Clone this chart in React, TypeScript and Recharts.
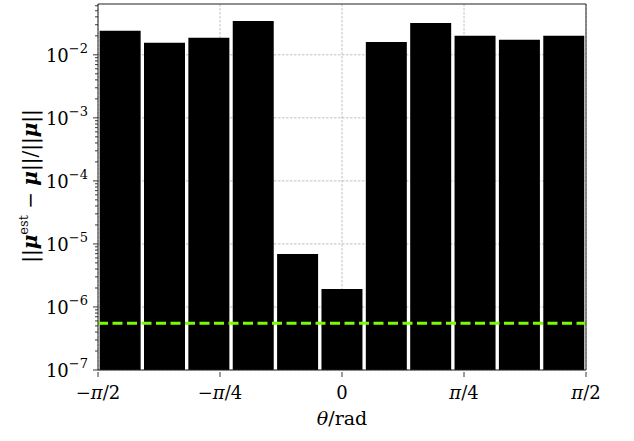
import * as React from "react";
import {
  Bar,
  CartesianGrid,
  ComposedChart,
  ReferenceLine,
  XAxis,
  YAxis,
} from "recharts";

// bin centres in units of pi/22
const BIN_CENTERS = [-10, -8, -6, -4, -2, 0, 2, 4, 6, 8, 10];
const REL_ERROR = [
  0.024, 0.0155, 0.0186, 0.0345, 6.9e-6, 1.93e-6, 0.016, 0.032, 0.02, 0.0173,
  0.02,
];
const NOISE_FLOOR = 5.5e-7;

const THETA_TICKS = [-Math.PI / 2, -Math.PI / 4, 0, Math.PI / 4, Math.PI / 2];
const THETA_LABELS = ["−π/2", "−π/4", "0", "π/4", "π/2"];
const DECADES = [1e-7, 1e-6, 1e-5, 1e-4, 1e-3, 1e-2];
const EXPONENTS = [-7, -6, -5, -4, -3, -2];
const MINOR_MULT = [2, 3, 4, 5, 6, 7, 8, 9];
const Y_MAX = 0.064;

const FONT = "'DejaVu Serif', 'Liberation Serif', serif";
const INK = "#000";

const yTicks: number[] = [];
DECADES.forEach((d) => {
  yTicks.push(d);
  MINOR_MULT.forEach((m) => {
    const v = d * m;
    if (v <= Y_MAX) yTicks.push(v);
  });
});

const rows = BIN_CENTERS.map((c, i) => ({
  bin: String(c),
  theta: (c * Math.PI) / 22,
  err: REL_ERROR[i],
}));

function YTick(props: any) {
  const { x, y, payload } = props;
  const v = payload.value as number;
  const idx = DECADES.findIndex((d) => Math.abs(d - v) / d < 1e-6);
  const major = idx >= 0;
  return (
    <g>
      <line x1={x - (major ? 5 : 3)} x2={x} y1={y} y2={y} stroke="#222" strokeWidth={0.9} />
      {major && (
        <text x={x - 10} y={y + 7} textAnchor="end" fontFamily={FONT} fill={INK}>
          <tspan fontSize={18}>10</tspan>
          <tspan fontSize={13} dy={-9}>
            {"−" + String(-EXPONENTS[idx])}
          </tspan>
        </text>
      )}
    </g>
  );
}

// render "π" in italic, the rest upright
function mathParts(s: string) {
  return s.split(/(π)/).filter(Boolean).map((part, i) =>
    part === "π" ? (
      <tspan key={i} fontStyle="italic">π</tspan>
    ) : (
      <tspan key={i}>{part}</tspan>
    )
  );
}

function XTick(props: any) {
  const { x, y, payload, index } = props;
  return (
    <g>
      <line x1={x} x2={x} y1={y} y2={y + 5} stroke="#222" strokeWidth={0.9} />
      <text
        x={x}
        y={y + 27}
        textAnchor="middle"
        fontFamily={FONT}
        fontSize={18}
        fill={INK}
      >
        {mathParts(THETA_LABELS[index] ?? String(payload.value))}
      </text>
    </g>
  );
}

function YLabel() {
  const cx = 37;
  const cy = 186;
  const mu = { fontWeight: "bold", fontStyle: "italic" } as const;
  return (
    <text
      x={cx}
      y={cy}
      transform={`rotate(-90 ${cx} ${cy})`}
      textAnchor="middle"
      fontFamily={FONT}
      fontSize={20}
      fill={INK}
    >
      <tspan>||</tspan>
      <tspan {...mu}>μ</tspan>
      <tspan fontSize={13} dy={-9}>est</tspan>
      <tspan dy={9}> − </tspan>
      <tspan {...mu}>μ</tspan>
      <tspan>||/||</tspan>
      <tspan {...mu}>μ</tspan>
      <tspan>||</tspan>
    </text>
  );
}

export default function App() {
  return (
    <div style={{ position: "absolute", left: 0, top: 0 }}>
      <ComposedChart
        width={634}
        height={441}
        data={rows}
        margin={{ top: 3, right: 47, left: 0, bottom: 0 }}
        barCategoryGap="3.7%"
      >
        <CartesianGrid
          xAxisId="theta"
          yAxisId="left"
          stroke="#b0b0b0"
          strokeWidth={0.8}
          strokeDasharray="2.5 1.5"
          horizontalValues={DECADES}
          verticalValues={THETA_TICKS}
        />
        <XAxis
          xAxisId="cat"
          dataKey="bin"
          type="category"
          hide
          height={0}
          padding={{ left: 0, right: 0 }}
        />
        <XAxis
          xAxisId="theta"
          dataKey="theta"
          type="number"
          domain={[-Math.PI / 2, Math.PI / 2]}
          ticks={THETA_TICKS}
          interval={0}
          height={71}
          stroke="#222"
          tickLine={false}
          tickSize={0}
          tick={<XTick />}
          allowDataOverflow
          label={(p: any) => {
            const vb = p.viewBox;
            const cx = vb.x + vb.width / 2;
            return (
              <text x={cx} y={425} textAnchor="middle" fontFamily={FONT} fontSize={19} fill={INK}>
                <tspan fontStyle="italic">θ</tspan>
                <tspan>/rad</tspan>
              </text>
            );
          }}
        />
        <XAxis
          xAxisId="top"
          orientation="top"
          dataKey="theta"
          type="number"
          domain={[-Math.PI / 2, Math.PI / 2]}
          allowDataOverflow
          height={1}
          tick={false}
          tickLine={false}
          stroke="#222"
        />
        <YAxis
          yAxisId="left"
          type="number"
          scale="log"
          domain={[1e-7, Y_MAX]}
          allowDataOverflow
          ticks={yTicks}
          interval={0}
          width={98}
          stroke="#222"
          tickLine={false}
          tickSize={0}
          tickMargin={0}
          tick={<YTick />}
          label={() => <YLabel />}
        />
        <YAxis
          yAxisId="right"
          orientation="right"
          type="number"
          dataKey="err"
          domain={[0, 1]}
          allowDataOverflow
          width={1}
          tick={false}
          tickLine={false}
          stroke="#222"
        />
        <Bar
          xAxisId="cat"
          yAxisId="left"
          dataKey="err"
          fill="#000"
          isAnimationActive={false}
        />
        <ReferenceLine
          xAxisId="cat"
          yAxisId="left"
          y={NOISE_FLOOR}
          stroke="#7CFC00"
          strokeWidth={3}
          strokeDasharray="10 4.5"
        />
      </ComposedChart>
    </div>
  );
}
